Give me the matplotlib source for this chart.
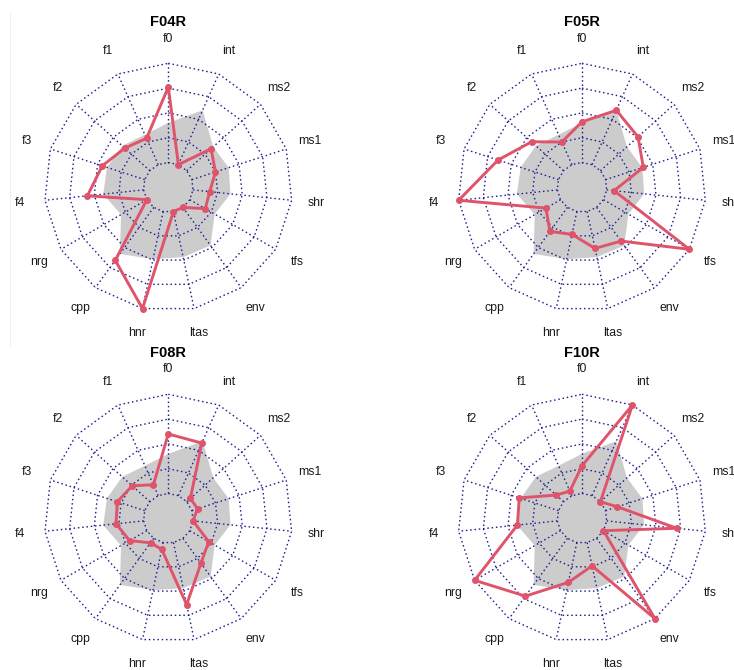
import numpy as np
import matplotlib
matplotlib.use("Agg")
import matplotlib.pyplot as plt
from matplotlib.lines import Line2D

plt.rcParams['font.family'] = ['Liberation Sans', 'DejaVu Sans']

# axes go clockwise starting from the top
axis_labels = ["f0", "int", "ms2", "ms1", "shr", "tfs", "env", "ltas",
               "hnr", "cpp", "nrg", "f4", "f3", "f2", "f1"]

# scaled scores, 0 = centre ring, 1 = outer ring
reference = [0.40, 0.60, 0.36, 0.39, 0.38, 0.29, 0.475, 0.47,
             0.49, 0.58, 0.30, 0.41, 0.40, 0.375, 0.33]

speakers = ["F04R", "F05R", "F08R", "F10R"]
f04r = [0.76, 0.0, 0.33, 0.25, 0.17, 0.18, 0.0, 0.0,
        1.0, 0.66, 0.0, 0.57, 0.45, 0.34, 0.29]
f05r = [0.41, 0.60, 0.51, 0.40, 0.075, 1.0, 0.42, 0.38,
        0.235, 0.30, 0.17, 1.0, 0.64, 0.435, 0.25]
f08r = [0.60, 0.58, 0.05, 0.06, 0.0, 0.22, 0.31, 0.64,
        0.07, 0.055, 0.20, 0.28, 0.29, 0.24, 0.12]
f10r = [0.28, 1.0, 0.0, 0.125, 0.71, 0.0, 1.0, 0.24,
        0.41, 0.72, 1.0, 0.405, 0.415, 0.10, 0.05]
speaker_vals = [f04r, f05r, f08r, f10r]

W, H = 734, 670
fig = plt.figure(figsize=(W/100, H/100), dpi=100)

grid_col = "#1f1f8f"
red = "#DF536B"
n_seg = 4   # rings between centre ring and outer ring
cgap = 1    # fmsb style gap in the middle


def closed(a):
    return np.append(a, a[0])


def draw_radar(ax, title, vals):
    n = len(axis_labels)
    ang = np.deg2rad(90 - 360.0/n*np.arange(n))
    cs, sn = np.cos(ang), np.sin(ang)
    r0 = cgap/(n_seg + cgap)

    r_ref = r0 + (1 - r0)*np.array(reference)
    ax.fill(r_ref*cs, r_ref*sn, color="#cccccc", lw=0, zorder=1)

    # rings and spokes
    for k in range(n_seg + 1):
        rr = (k + cgap)/(n_seg + cgap)
        ax.plot(closed(rr*cs), closed(rr*sn),
                color=grid_col, ls=(0, (1.1, 2.0)), lw=1.0, zorder=2)
    for i in range(n):
        ax.plot([r0*cs[i], cs[i]], [r0*sn[i], sn[i]],
                color=grid_col, ls=(0, (1.1, 2.0)), lw=1.0, zorder=2)

    r = r0 + (1 - r0)*np.array(vals)
    ax.plot(closed(r*cs), closed(r*sn), color=red, lw=2.1, zorder=3)
    ax.plot(r*cs, r*sn, "o", color=red, ms=4.0, zorder=4)

    for i in range(n):
        ax.text(1.2*cs[i], 1.2*sn[i], axis_labels[i], ha="center", va="center",
                fontsize=8.8, color="#1a1a1a")
    ax.text(0, 1.33, title, ha="center", va="center", fontsize=10.5,
            fontweight="bold")


# panel centres in pixels from the top left, and radius of outer ring
centres = [(168.3, 187.3), (582, 187.3), (168.3, 518.3), (582, 518.3)]
R = 124
L = 1.45
for (cx, cy), name, vals in zip(centres, speakers, speaker_vals):
    ax = fig.add_axes([(cx - L*R)/W, (H - cy - L*R)/H, 2*L*R/W, 2*L*R/H])
    ax.set_xlim(-L, L)
    ax.set_ylim(-L, L)
    ax.axis("off")
    draw_radar(ax, name, vals)

# faint border line on the left
fig.add_artist(Line2D([9.5/W, 9.5/W], [1 - 13/H, 1 - 345/H], color="#eeeeee", lw=0.8))

fig.savefig("out.png", dpi=100)
